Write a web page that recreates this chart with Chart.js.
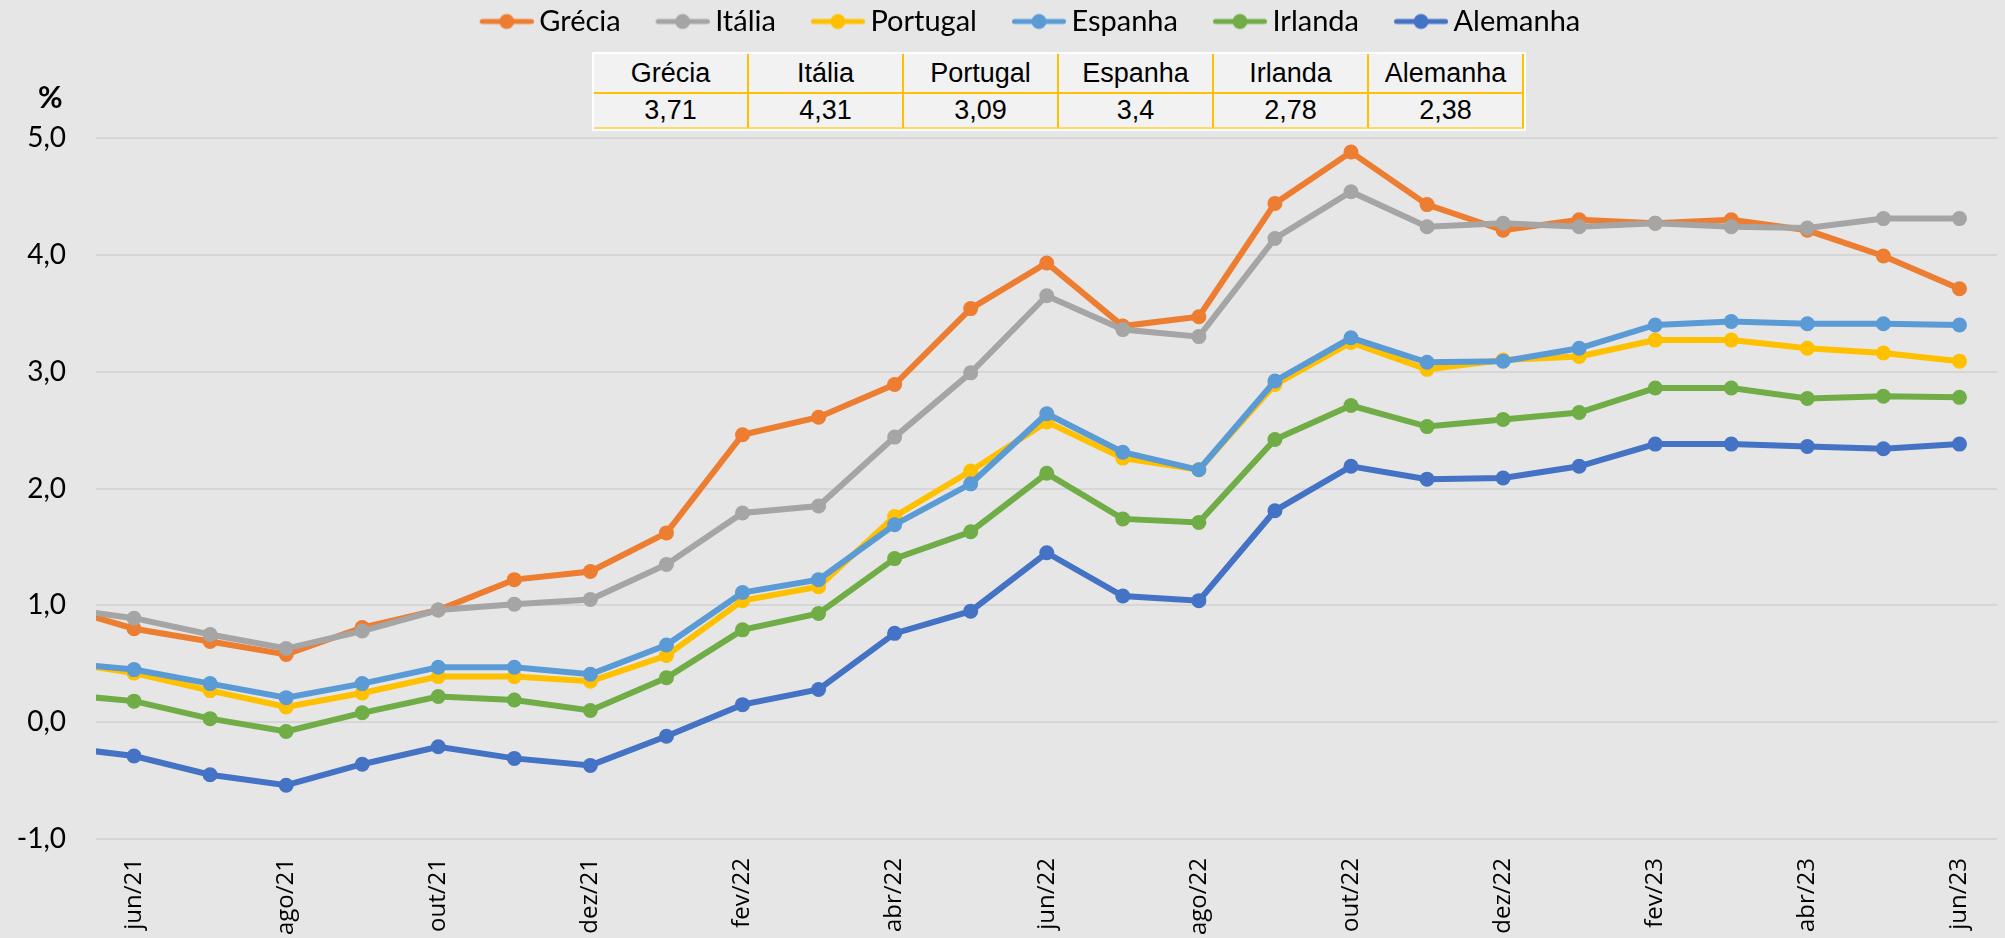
<!DOCTYPE html>
<html>
<head>
<meta charset="utf-8">
<script src="https://cdn.jsdelivr.net/npm/chart.js@4.4.1/dist/chart.umd.min.js"></script>
<style>
  body { margin: 0; background: #e6e6e6; }
  #wrap { position: relative; width: 2005px; height: 938px; background: #e6e6e6; }
  #tbl {
    position: absolute; left: 592px; top: 52px;
    border-collapse: separate; border-spacing: 0;
    border: 2px solid #fff; background: #f2f2f2;
    table-layout: fixed;
    font-family: "Liberation Sans", Arial, sans-serif; font-size: 27px; color: #000;
  }
  #tbl td { width: 153px; padding: 0; text-align: center; border-right: 2px solid #ffc000; }
  #tblHead td { height: 38px; border-bottom: 2px solid #ffc000; }
  #tblVals td { height: 33px; border-bottom: 2px solid #ffd966; }
</style>
</head>
<body>
<div id="wrap">
  <canvas id="lineChart" width="2005" height="938"></canvas>
  <table id="tbl"><tr id="tblHead"></tr><tr id="tblVals"></tr></table>
</div>
<script>
// meses (mai/21 fica fora do eixo, só a ponta da linha aparece)
var months = ['mai/21', 'jun/21', 'jul/21', 'ago/21', 'set/21', 'out/21', 'nov/21', 'dez/21',
              'jan/22', 'fev/22', 'mar/22', 'abr/22', 'mai/22', 'jun/22', 'jul/22', 'ago/22',
              'set/22', 'out/22', 'nov/22', 'dez/22', 'jan/23', 'fev/23', 'mar/23', 'abr/23',
              'mai/23', 'jun/23'];
var tickLabels = ['jun/21', 'ago/21', 'out/21', 'dez/21', 'fev/22', 'abr/22', 'jun/22',
                  'ago/22', 'out/22', 'dez/22', 'fev/23', 'abr/23', 'jun/23'];

var grecia   = [0.99, 0.80, 0.69, 0.58, 0.81, 0.96, 1.22, 1.29, 1.62, 2.46, 2.61, 2.89, 3.54,
                3.93, 3.39, 3.47, 4.44, 4.88, 4.43, 4.21, 4.30, 4.27, 4.30, 4.21, 3.99, 3.71];
var italia   = [0.98, 0.89, 0.75, 0.63, 0.78, 0.96, 1.01, 1.05, 1.35, 1.79, 1.85, 2.44, 2.99,
                3.65, 3.36, 3.30, 4.14, 4.54, 4.24, 4.27, 4.24, 4.27, 4.24, 4.23, 4.31, 4.31];
var portugal = [0.52, 0.42, 0.27, 0.13, 0.25, 0.39, 0.39, 0.35, 0.57, 1.04, 1.16, 1.76, 2.15,
                2.57, 2.26, 2.16, 2.89, 3.25, 3.02, 3.10, 3.13, 3.27, 3.27, 3.20, 3.16, 3.09];
var espanha  = [0.51, 0.45, 0.33, 0.21, 0.33, 0.47, 0.47, 0.41, 0.66, 1.11, 1.22, 1.69, 2.04,
                2.64, 2.31, 2.16, 2.92, 3.29, 3.08, 3.09, 3.20, 3.40, 3.43, 3.41, 3.41, 3.40];
var irlanda  = [0.24, 0.18, 0.03, -0.08, 0.08, 0.22, 0.19, 0.10, 0.38, 0.79, 0.93, 1.40, 1.63,
                2.13, 1.74, 1.71, 2.42, 2.71, 2.53, 2.59, 2.65, 2.86, 2.86, 2.77, 2.79, 2.78];
var alemanha = [-0.21, -0.29, -0.45, -0.54, -0.36, -0.21, -0.31, -0.37, -0.12, 0.15, 0.28, 0.76, 0.95,
                1.45, 1.08, 1.04, 1.81, 2.19, 2.08, 2.09, 2.19, 2.38, 2.38, 2.36, 2.34, 2.38];

var seriesNames = ['Grécia', 'Itália', 'Portugal', 'Espanha', 'Irlanda', 'Alemanha'];
var lastValues = [3.71, 4.31, 3.09, 3.4, 2.78, 2.38];

var seriesColors = ['#ED7D31', '#A5A5A5', '#FFC000', '#5B9BD5', '#70AD47', '#4472C4'];
var allSeries = [grecia, italia, portugal, espanha, irlanda, alemanha];

function fmt(v) { return String(v).replace('.', ','); }

// tabela com os últimos valores
var head = document.getElementById('tblHead');
var vals = document.getElementById('tblVals');
seriesNames.forEach(function(name, i) {
  var td = document.createElement('td'); td.textContent = name; head.appendChild(td);
  var td2 = document.createElement('td'); td2.textContent = fmt(lastValues[i]); vals.appendChild(td2);
});

// marcador da legenda: linha com bolinha (espaço transparente à esquerda)
function legendMarker(color) {
  var c = document.createElement('canvas');
  c.width = 92; c.height = 18;
  var g = c.getContext('2d');
  g.strokeStyle = color; g.lineWidth = 5; g.lineCap = 'round';
  g.beginPath(); g.moveTo(40.5, 9); g.lineTo(89.5, 9); g.stroke();
  g.fillStyle = color;
  g.beginPath(); g.arc(65, 9, 7.5, 0, Math.PI * 2); g.fill();
  return c;
}
var markers = seriesColors.map(legendMarker);

// "%" fica um pouco à direita da margem; a legenda um pouco à direita do centro
var nudgeBoxes = {
  id: 'nudgeBoxes',
  afterLayout: function(chart) {
    if (chart.titleBlock) chart.titleBlock.left = 38;
    if (chart.legend) chart.legend.left = 26;
  }
};

function draw() {
  var datasets = seriesNames.map(function(name, i) {
    return {
      label: name,
      data: allSeries[i].map(function(v, k) { return {x: k, y: v}; }),
      borderColor: seriesColors[i],
      backgroundColor: seriesColors[i],
      borderWidth: 6,
      pointRadius: 7.5,
      pointHoverRadius: 7.5,
      pointBorderWidth: 0,
      tension: 0,
      order: -i
    };
  });

  var ctx = document.getElementById('lineChart').getContext('2d');
  var myLineChart = new Chart(ctx, {
    type: 'line',
    data: { datasets: datasets },
    plugins: [nudgeBoxes],
    options: {
      responsive: false,
      animation: false,
      events: [],
      layout: { padding: { top: 1, left: 0, right: 0, bottom: 0 } },
      scales: {
        x: {
          type: 'linear',
          min: 0.5,
          max: 25.5,
          afterBuildTicks: function(axis) {
            axis.ticks = tickLabels.map(function(l) { return {value: months.indexOf(l)}; });
          },
          afterFit: function(s) { s.height = 99; s.paddingLeft = 0; s.paddingRight = 0; },
          grid: { display: false, drawTicks: false },
          border: { display: false },
          ticks: {
            autoSkip: false,
            minRotation: 90,
            maxRotation: 90,
            padding: 19,
            color: '#000',
            font: { family: 'Open Sans', size: 24 },
            callback: function(v) { return months[v]; }
          }
        },
        y: {
          min: -1,
          max: 5,
          afterFit: function(s) { s.width = 96; },
          grid: { color: '#d6d6d6', lineWidth: 2, drawTicks: false },
          border: { display: false },
          ticks: {
            stepSize: 1,
            padding: 30,
            color: '#000',
            font: { family: 'Lato', size: 28 },
            callback: function(v) { return v.toFixed(1).replace('.', ','); }
          }
        }
      },
      plugins: {
        tooltip: { enabled: false },
        legend: {
          position: 'top',
          labels: {
            usePointStyle: true,
            pointStyleWidth: 74,
            padding: 6,
            color: '#000',
            font: { family: 'Lato', size: 29 },
            generateLabels: function(chart) {
              var items = Chart.defaults.plugins.legend.labels.generateLabels(chart);
              items.sort(function(a, b) { return a.datasetIndex - b.datasetIndex; });
              items.forEach(function(it) { it.pointStyle = markers[it.datasetIndex]; });
              return items;
            }
          }
        },
        title: {
          display: true,
          text: '%',
          align: 'start',
          weight: 500,
          color: '#000',
          font: { family: 'Lato', size: 30, weight: 'bold' },
          padding: { top: 34, bottom: 22 }
        }
      }
    }
  });
}

Promise.all([
  document.fonts.load('28px Lato'),
  document.fonts.load('bold 30px Lato'),
  document.fonts.load('24px "Open Sans"'),
  document.fonts.load('27px "Liberation Sans"')
]).then(draw, draw);
</script>
</body>
</html>
